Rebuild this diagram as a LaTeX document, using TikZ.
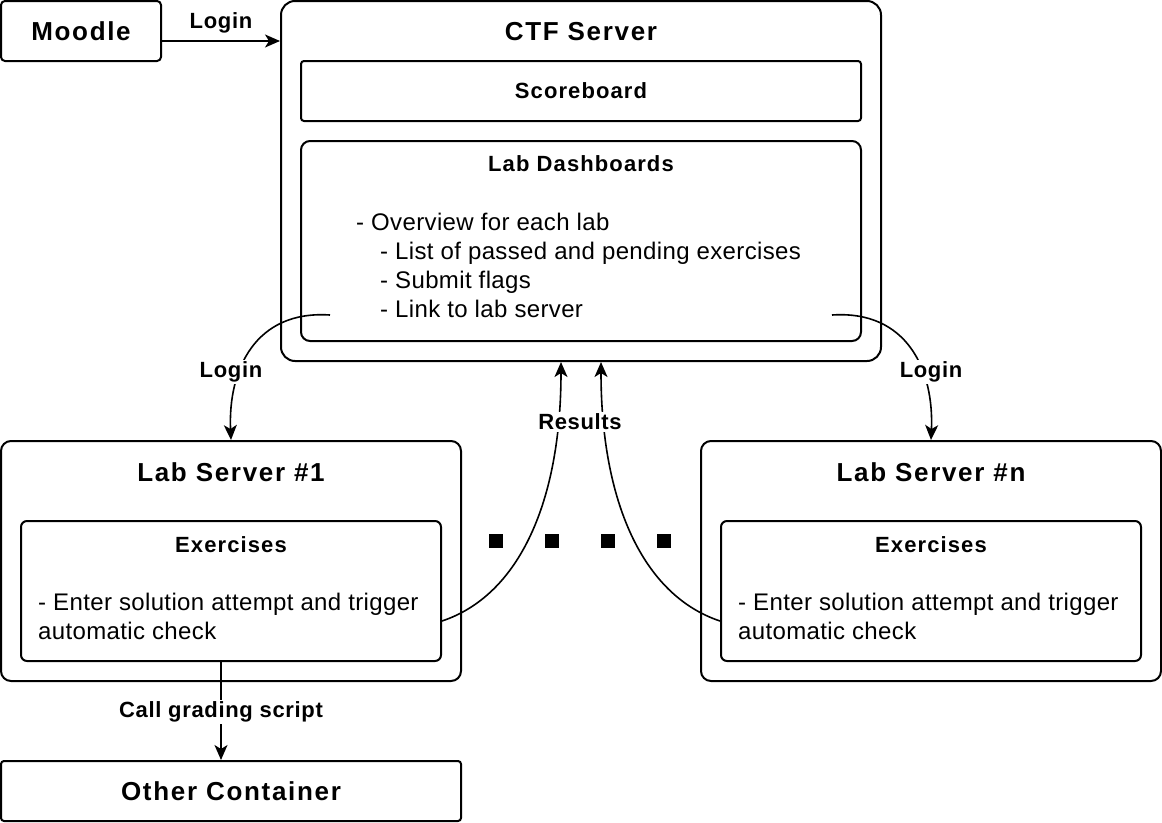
\documentclass[tikz,border=0pt]{standalone}
\usepackage{fontspec}
\setmainfont{Liberation Sans}
\newfontfamily\ttlfont[LetterSpace=6.5]{Liberation Sans}
\newfontfamily\subfontx[LetterSpace=5]{Liberation Sans}
\newfontfamily\lblfontx[LetterSpace=3]{Liberation Sans}
\newfontfamily\bodyfontx[LetterSpace=1.5]{Liberation Sans}
\usetikzlibrary{arrows.meta,calc}
\begin{document}
\begin{tikzpicture}[x=1pt,y=-1pt,
  box/.style={draw, line width=2pt, inner sep=0pt},
  ttl/.style={font=\ttlfont\bfseries\fontsize{26}{30}\selectfont},
  sub/.style={font=\subfontx\bfseries\fontsize{22}{26}\selectfont, inner sep=0pt},
  lbl/.style={font=\lblfontx\bfseries\fontsize{22}{26}\selectfont, fill=white, inner sep=1.5pt},
  body/.style={font=\bodyfontx\fontsize{24}{29}\selectfont, align=left, inner sep=0pt},
  arr/.style={line width=1.6pt, -{Stealth[length=15pt,width=13pt,inset=4pt]}},
  dot/.style={fill=black, minimum size=14pt, inner sep=0pt}
]
\useasboundingbox (0,0) rectangle (1162,822);

% boxes
\node[box, rounded corners=4pt, minimum width=160pt, minimum height=60pt, ttl] (moodle) at (81,31) {Moodle};
\node[box, rounded corners=14pt, minimum width=600pt, minimum height=360pt] (ctf) at (581,181) {};
\node[ttl] (ctft) at (581,32) {CTF Server};
\node[box, rounded corners=3pt, minimum width=560pt, minimum height=60pt, sub] (score) at (581,91) {Scoreboard};
\node[box, rounded corners=9pt, minimum width=560pt, minimum height=200pt] (dash) at (581,241) {};
\node[sub] (dasht) at (581,164) {Lab Dashboards};
\node[body, anchor=west] (dashb) at (356,265) {- Overview for each lab\\
\hspace*{24pt}- List of passed and pending exercises\\
\hspace*{24pt}- Submit flags\\
\hspace*{24pt}- Link to lab server};

\node[box, rounded corners=10pt, minimum width=460pt, minimum height=240pt] (ls1) at (231,561) {};
\node[ttl] (ls1t) at (231,472) {Lab Server \#1};
\node[box, rounded corners=6pt, minimum width=420pt, minimum height=140pt] (ex1) at (231,591) {};
\node[sub] (ex1t) at (231,545) {Exercises};
\node[body, anchor=west] (ex1b) at (38,616.5) {- Enter solution attempt and trigger\\automatic check};

\node[box, rounded corners=10pt, minimum width=460pt, minimum height=240pt] (lsn) at (931,561) {};
\node[ttl] (lsnt) at (931,472) {Lab Server \#n};
\node[box, rounded corners=6pt, minimum width=420pt, minimum height=140pt] (exn) at (931,591) {};
\node[sub] (exnt) at (931,545) {Exercises};
\node[body, anchor=west] (exnb) at (738,616.5) {- Enter solution attempt and trigger\\automatic check};

\node[box, rounded corners=3pt, minimum width=460pt, minimum height=60pt, ttl] (other) at (231,791) {Other Container};

% dots
\node[dot] (d1) at (496,541) {};
\node[dot] (d2) at (552,541) {};
\node[dot] (d3) at (608,541) {};
\node[dot] (d4) at (664,541) {};

% connectors
\draw[arr] ([yshift=-10pt]moodle.east) -- ([yshift=-10pt]moodle.east -| ctf.west);
\node[lbl, fill=none] (l0) at (221,23) {Login};

\coordinate (s1) at ([xshift=30pt,yshift=27pt]dash.south west);
\coordinate (sn) at ([xshift=-30pt,yshift=27pt]dash.south east);
\draw[arr] (s1) .. controls (255,310) and (228,370) .. (ls1.north);
\draw[arr] (sn) .. controls (907,310) and (934,370) .. (lsn.north);
\node[lbl] (l1) at (231,372) {Login};
\node[lbl] (l2) at (931,372) {Login};

\draw[arr] ([yshift=-30pt]ex1.east) .. controls (520,595) and (561,500) .. ([xshift=-20pt]ctf.south);
\draw[arr] ([yshift=-30pt]exn.west) .. controls (642,595) and (601,500) .. ([xshift=20pt]ctf.south);
\node[lbl] (lr) at (580,422) {Results};

\draw[arr] ([xshift=-10pt]ex1.south) -- ([xshift=-10pt]other.north);
\node[lbl] (lg) at (221,712) {Call grading script};
\end{tikzpicture}
\end{document}
